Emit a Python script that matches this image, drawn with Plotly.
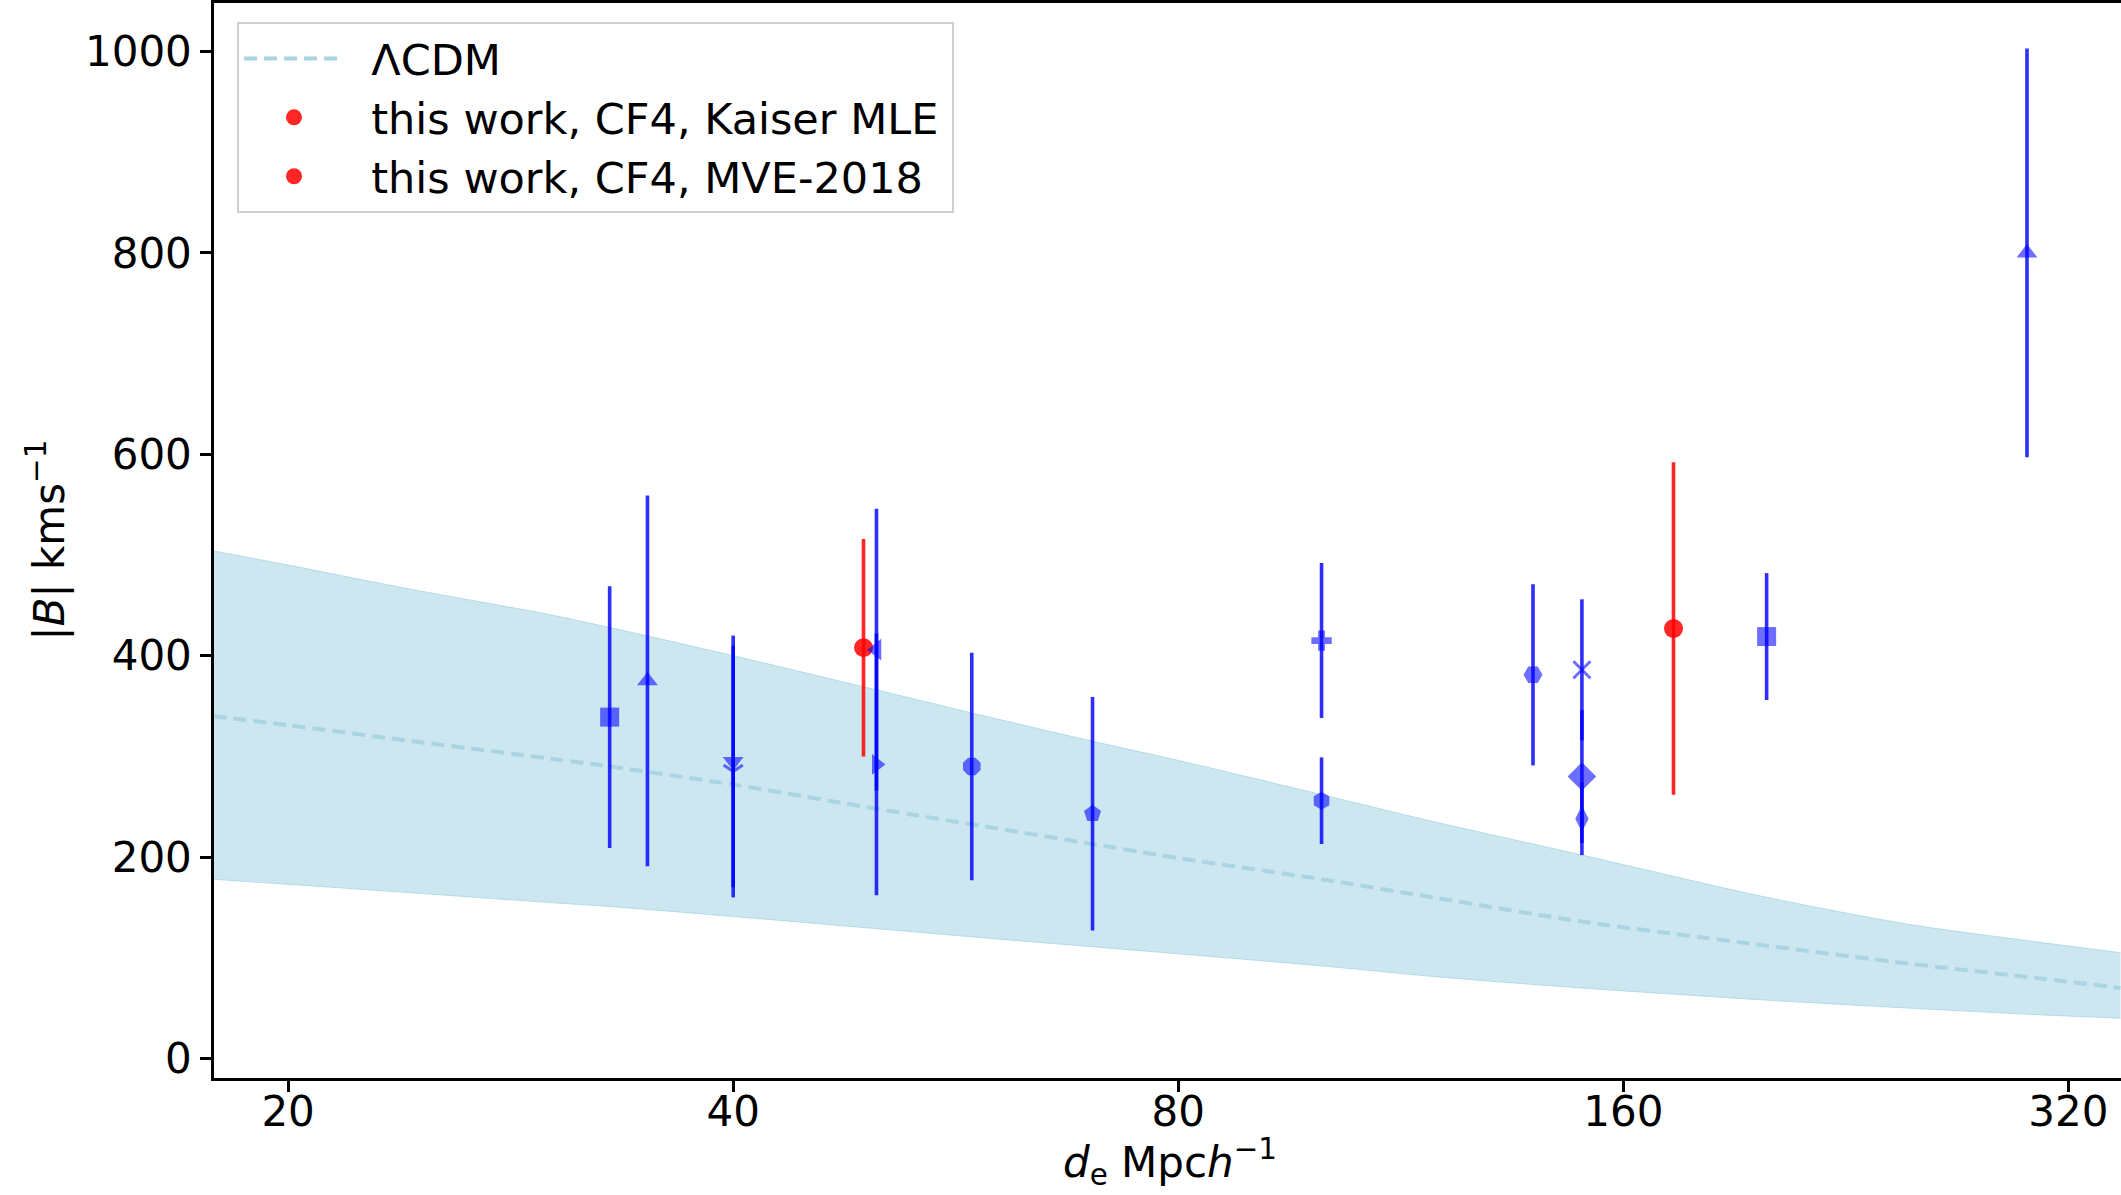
import numpy as np
import plotly.graph_objects as go

# ---------------- data ----------------
# LambdaCDM expectation band
lcdm_x = [17.8, 20, 24, 30, 33, 40, 50, 60, 70, 80, 100, 120, 150, 200, 250, 300, 347]
lcdm_mid = [340, 331, 316, 298, 290, 272, 248, 229, 213, 199, 178, 159, 136, 112, 94, 81, 70]
lcdm_upper = [504, 490, 467, 441, 428, 400, 366, 338, 315, 296, 262, 234, 202, 160, 133, 117, 105]
lcdm_lower = [178, 173, 165, 155, 151, 141, 129, 119, 111, 104, 92, 81, 70, 58, 50, 44, 40]

# this work (red)
red_x = [49, 173]
red_y = [408, 427]
red_err = [108, 165]
red_names = ["this work, CF4, Kaiser MLE", "this work, CF4, MVE-2018"]

# literature values (blue)
blue_x = [33, 35, 40, 40, 50, 50, 58, 70, 100, 100, 139, 150, 150, 150, 200, 300]
blue_y = [339, 375, 295, 285, 406, 292, 290, 243, 415, 256, 381, 386, 280, 238, 419, 800]
blue_err = [130, 184, 125, 125, 140, 130, 113, 116, 77, 43, 90, 70, 66, 36, 63, 203]

x_ticks = [20, 40, 80, 160, 320]
x_ticklabels = ["20", "40", "80", "160", "320"]
y_ticks = [0, 200, 400, 600, 800, 1000]
y_ticklabels = ["0", "200", "400", "600", "800", "1000"]

# ---------------- styles ----------------
blue_symbols = ["square", "triangle-up", "triangle-down", "y-down-open", "triangle-left",
                "triangle-right", "octagon", "pentagon", "cross", "hexagon", "hexagon2",
                "x-thin-open", "diamond", "diamond-tall", "square", "triangle-up"]
blue_sizes = [19, 18, 18, 16, 19, 18, 19, 18, 17, 18, 19, 17, 22, 19, 19, 18]
blue_linew = [0, 0, 0, 3, 0, 0, 0, 0, 0, 0, 0, 3, 0, 0, 0, 0]

BLUE = "rgba(0,0,255,0.82)"
RED = "rgba(255,0,0,0.85)"
FONT = "DejaVu Sans"
FS = 42
PAD = "\u00a0\u2009"

fig = go.Figure()

# band
fig.add_trace(go.Scatter(x=lcdm_x, y=lcdm_upper, mode="lines",
                         line=dict(color="rgba(173,216,230,0.9)", width=1, shape="spline", smoothing=0.8),
                         showlegend=False, hoverinfo="skip"))
fig.add_trace(go.Scatter(x=lcdm_x, y=lcdm_lower, mode="lines",
                         line=dict(color="rgba(173,216,230,0.9)", width=1, shape="spline", smoothing=0.8),
                         fill="tonexty", fillcolor="rgba(173,216,230,0.62)", showlegend=False, hoverinfo="skip"))
fig.add_trace(go.Scatter(x=lcdm_x, y=lcdm_mid, mode="lines", name=PAD + "ΛCDM", legendgroup="g0",
                         line=dict(color="rgb(170,212,226)", width=4, dash="13px,7px", shape="spline", smoothing=0.8)))

# red points
for i in range(len(red_x)):
    fig.add_trace(go.Scatter(x=[red_x[i]], y=[red_y[i]], mode="markers", name=PAD + red_names[i] + "\u2009",
                             legendgroup="g%d" % (i + 1),
                             marker=dict(color=RED, size=19, symbol="circle"),
                             error_y=dict(type="data", array=[red_err[i]], color=RED, thickness=3.6, width=0)))

# blue points
fig.add_trace(go.Scatter(x=blue_x, y=blue_y, mode="markers", showlegend=False,
                         marker=dict(color=BLUE, size=blue_sizes, symbol=blue_symbols,
                                     line=dict(color=BLUE, width=blue_linew)),
                         error_y=dict(type="data", array=blue_err, color=BLUE, thickness=3.6, width=0)))

W, H = 2121, 1195
L, R, T, B = 214, 0, 3, 117
plot_w = W - L - R
plot_h = H - T - B

fig.update_layout(
    width=W, height=H, autosize=False,
    margin=dict(l=L, r=R, t=T, b=B),
    plot_bgcolor="white", paper_bgcolor="white",
    font=dict(family=FONT, size=FS, color="black"),
    showlegend=True,
    legend=dict(x=(237 - L) / plot_w, y=(H - B - 22) / plot_h, xanchor="left", yanchor="top",
                bgcolor="rgba(255,255,255,0.85)", bordercolor="#d0d0d0", borderwidth=2,
                font=dict(family=FONT, size=43, color="black"), itemwidth=100,
                traceorder="normal", tracegroupgap=4),
)
fig.update_xaxes(type="log", range=[np.log10(17.82), np.log10(347.3)],
                 tickvals=x_ticks, ticktext=x_ticklabels,
                 ticks="outside", ticklen=11, tickwidth=2.5, tickcolor="black",
                 showline=True, linecolor="black", linewidth=2.5, mirror=True,
                 showgrid=False, zeroline=False, automargin=False, ticklabelstandoff=-16,
                 tickfont=dict(family=FONT, size=FS))
fig.update_yaxes(range=[-19.4, 1048.2], tickvals=y_ticks, ticktext=y_ticklabels,
                 ticks="outside", ticklen=11, tickwidth=2.5, tickcolor="black",
                 showline=True, linecolor="black", linewidth=2.5, mirror=False,
                 showgrid=False, zeroline=False, automargin=False,
                 tickfont=dict(family=FONT, size=FS))

# axis titles
fig.add_annotation(text="<i>d</i><sub>e</sub> Mpc<i>h</i><sup>−1</sup>", xref="paper", yref="paper",
                   x=(1170 - L) / plot_w, y=(H - B - 1162) / plot_h, xanchor="center", yanchor="middle",
                   showarrow=False, font=dict(family=FONT, size=FS))
fig.add_annotation(text="|<i>B</i>| kms<sup>−1</sup>", xref="paper", yref="paper",
                   x=(47 - L) / plot_w, y=0.5, xanchor="center", yanchor="middle", textangle=-90,
                   showarrow=False, font=dict(family=FONT, size=FS))

fig.write_html("out.html", config={"displayModeBar": False},
               post_script="document.body.style.margin='0px';document.body.style.overflow='hidden';")
